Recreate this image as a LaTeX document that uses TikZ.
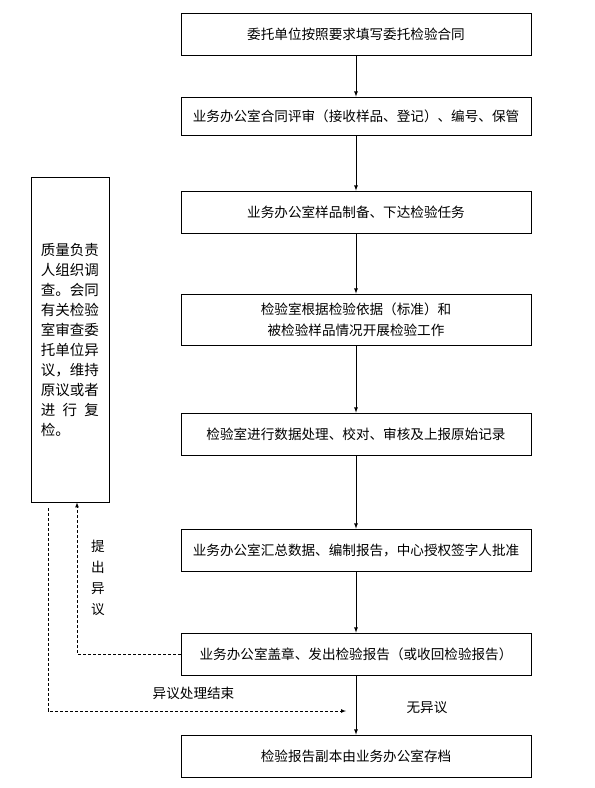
\documentclass[tikz,border=0pt]{standalone}
\usepackage{fontspec}
\setmainfont{Noto Sans CJK SC}
\usetikzlibrary{positioning}
\usetikzlibrary{arrows}

\begin{document}
\begin{tikzpicture}[x=1pt, y=-1pt, >=latex,
  every box/.style={draw, line width=0.8pt, inner sep=0pt, minimum width=350pt,
    align=center, font=\fontsize{13.6pt}{21pt}\selectfont},
  every note/.style={font=\fontsize{13.6pt}{21pt}\selectfont, inner sep=0pt},
  backflow/.style={->, line width=0.7pt, dash pattern=on 3pt off 2pt}]

\useasboundingbox (0,0) rectangle (595,788);

\foreach \t/\y/\h [count=\i] in {
  {委托单位按照要求填写委托检验合同}/34/42,
  {业务办公室合同评审（接收样品、登记）、编号、保管}/116/38,
  {业务办公室样品制备、下达检验任务}/212/42,
  {检验室根据检验依据（标准）和\\被检验样品情况开展检验工作}/319.5/51,
  {检验室进行数据处理、校对、审核及上报原始记录}/434/42,
  {业务办公室汇总数据、编制报告，中心授权签字人批准}/550/42,
  {业务办公室盖章、发出检验报告（或收回检验报告）}/654/42,
  {检验报告副本由业务办公室存档}/756/42}
  \node [every box, minimum height=\h pt] (task-\i) at (356,\y) {\t};

\foreach \i [count=\j from 2] in {1,...,7}
  \draw [->, line width=0.8pt] (task-\i) -- (task-\j);

\node [draw, line width=0.8pt, minimum width=78pt, minimum height=325pt, inner sep=0pt,
  text width=58pt, align=left, font=\fontsize{14.5pt}{20pt}\selectfont] (review) at (70,339.5)
  {质量负责\\人组织调\\查。会同\\有关检验\\室审查委\\托单位异\\议，维持\\原议或者\\进\hfill 行\hfill 复\\检。};

\draw [backflow] (task-7.west) -| ([xshift=7pt]review.south);
\node [every note, align=center] (objection) at (98,578) {提\\出\\异\\议};

\coordinate (resolved) at (346,711);
\draw [backflow] ([xshift=-22pt, yshift=-6pt]review.south) |- (resolved);
\node [every note] (resolved-label) at (193.5,693) {异议处理结束};
\node [every note] (no-objection) at (427,708) {无异议};

\end{tikzpicture}
\end{document}
